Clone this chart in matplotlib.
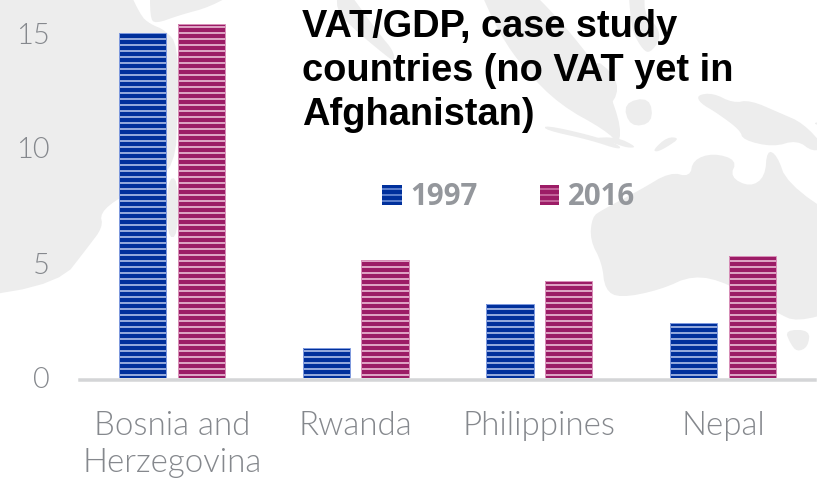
import matplotlib
matplotlib.use('Agg')
import matplotlib.pyplot as plt
from matplotlib.patches import Polygon, Patch
import numpy as np

W, H = 817, 482
DPI = 72  # 1pt = 1px, hatch tile is 72px so '--' gives 6px stripes

categories = ['Bosnia and\nHerzegovina', 'Rwanda', 'Philippines', 'Nepal']
vat_1997 = [15.0, 1.3, 3.22, 2.39]
vat_2016 = [15.39, 5.13, 4.22, 5.3]
yticks = [0, 5, 10, 15]
title = 'VAT/GDP, case study\ncountries (no VAT yet in\nAfghanistan)'

# faint world map behind the chart, traced in picture pixels
map_shapes = [
    [(-40, -40), (120, -30), (140, 15), (150, 24), (165, 30), (178, 45), (178, 110), (175, 165), (150, 185),
     (120, 197), (100, 213), (103, 227), (88, 247), (60, 283), (-40, 300)],
    [(150, -20), (150, 17), (155, 24), (180, 15), (210, 7), (240, -10)],
    [(167, 180), (178, 177), (178, 237), (167, 237)],
    [(340, -20), (380, 35), (393, 50), (395, 62), (385, 55), (355, 30), (335, 10)],
    [(475, -20), (520, -20), (560, 20), (600, 70), (620, 120), (620, 145), (605, 130), (560, 105), (525, 70), (500, 35)],
    [(545, 125), (590, 135), (620, 145), (620, 150), (590, 140), (545, 130)],
    [(628, -20), (647, -20), (643, 13), (658, 27), (660, 40), (650, 53), (643, 50), (633, 33), (630, 13)],
    [(590, 55), (617, 77), (617, 100), (590, 122)],
    [(623, 103), (650, 97), (653, 123), (630, 127)],
    [(697, 95), (713, 93), (733, 103), (750, 100), (780, 113), (803, 123), (825, 147), (813, 152), (797, 140),
     (773, 147), (743, 140), (740, 130), (717, 113), (700, 103)],
    [(590, 138), (617, 137), (637, 147), (628, 148), (613, 143)],
    [(653, 150), (667, 137), (680, 138), (667, 147), (657, 152)],
    [(810, 123), (830, 121), (830, 128)],
    [(640, 190), (670, 172), (690, 177), (693, 160), (713, 153), (737, 160), (730, 177), (750, 187), (765, 177),
     (767, 150), (777, 155), (787, 183), (840, 220), (840, 310), (797, 322), (777, 313), (728, 283), (693, 275),
     (660, 290), (620, 298), (605, 290), (602, 263), (590, 240), (592, 217), (602, 210)],
    [(785, 330), (810, 330), (808, 347), (797, 352), (790, 343)],
]


def smooth(pts, rounds=2):
    # corner cutting, the traced outlines are only a dozen points each
    p = np.asarray(pts, float)
    for _ in range(rounds):
        q = np.roll(p, -1, axis=0)
        p = np.column_stack([0.75 * p + 0.25 * q, 0.25 * p + 0.75 * q]).reshape(-1, 2)
    return p


plt.rcParams['hatch.linewidth'] = 1.5

fig = plt.figure(figsize=(W / DPI, H / DPI), dpi=DPI, facecolor='white')

bg = fig.add_axes([0, 0, 1, 1], zorder=0)
bg.set_xlim(0, W); bg.set_ylim(H, 0); bg.axis('off')
for pts in map_shapes:
    bg.add_patch(Polygon(smooth(pts), closed=True, fc='#ededed', ec='none'))

ax = fig.add_axes([80 / W, 1 - 378 / H, 735 / W, 378 / H], zorder=1)
ax.patch.set_alpha(0)
# set_position resets the ticks, so it has to come before the tick styling
ax.spines['bottom'].set_position(('outward', 2))
ax.spines['bottom'].set_color('#d4d5d7')
ax.spines['bottom'].set_linewidth(3.5)
for s in ['top', 'right', 'left']:
    ax.spines[s].set_visible(False)
ax.set_xlim(-0.5, 3.5)
ax.set_ylim(0, 378 / 23.0)

x = np.arange(4)
w = 0.258
ax.bar(x - 0.16, vat_1997, w, color='#00309c', edgecolor='#c3d1f2', hatch='--', lw=0)
ax.bar(x + 0.16, vat_2016, w, color='#9c1c66', edgecolor='#f3cfe2', hatch='--', lw=0)
ax.bar(x - 0.16, vat_1997, w, fill=False, edgecolor='#7f9ade', lw=1)
ax.bar(x + 0.16, vat_2016, w, fill=False, edgecolor='#d78fb8', lw=1)

ax.set_xticks(x, categories, family='Lato', fontweight=300, fontsize=33, color='#85888d', linespacing=1.28)
ax.set_yticks(yticks, [str(v) for v in yticks], family='Lato', fontweight=300, fontsize=29, color='#85888d')
ax.tick_params(axis='x', length=0, pad=31)
ax.tick_params(axis='y', length=0, pad=30)

swatches = [Patch(facecolor='#00309c', edgecolor='#7a98dc', hatch='--', lw=0),
            Patch(facecolor='#9c1c66', edgecolor='#d07aaa', hatch='--', lw=0)]
fig.legend(handles=swatches, labels=['1997', '2016'], ncol=2, frameon=False, loc='center left',
           bbox_to_anchor=(382 / W, 1 - 197 / H), borderpad=0, borderaxespad=0,
           handlelength=0.667, handleheight=0.667, handletextpad=0.3, columnspacing=2.1,
           prop={'family': 'Open Sans', 'weight': 'bold', 'size': 29.5}, labelcolor='#94979c')

fig.text(302 / W, 1 - 9 / H, title, fontsize=38, fontweight='bold', family='Liberation Sans',
         va='top', linespacing=1.29, color='black')
fig.savefig('out.png', dpi=DPI)
